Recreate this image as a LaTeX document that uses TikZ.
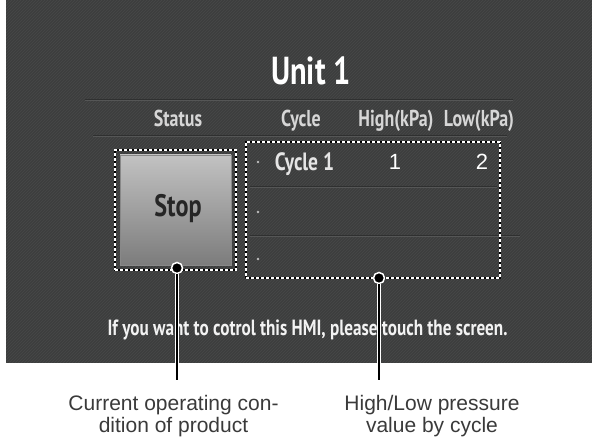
\documentclass[tikz,border=0pt]{standalone}
\usepackage{fontspec}
\setmainfont{Liberation Sans}
\newfontfamily\hmifont[FakeStretch=0.78]{PT Sans}
\usetikzlibrary{patterns}
\definecolor{panel}{HTML}{3D3E3E}
\definecolor{stripe}{HTML}{474848}
\definecolor{headgray}{HTML}{D6D6D6}
\definecolor{sepdark}{HTML}{2F3030}
\definecolor{seplight}{HTML}{555656}
\definecolor{btntop}{HTML}{C2C2C2}
\definecolor{btnbot}{HTML}{7C7C7C}
\definecolor{captext}{HTML}{3A3A3A}

\begin{document}
\begin{tikzpicture}[x=1pt, y=-1pt,
    head/.style={font=\hmifont\bfseries\fontsize{23}{26}\selectfont, text=headgray, anchor=base, inner sep=0pt},
    cell/.style={font=\fontsize{22}{25}\selectfont, text=white, anchor=base, inner sep=0pt},
    selbox/.style={draw=white, line width=1.4pt, dash pattern=on 3pt off 2pt,
      preaction={draw=black, line width=2.8pt, solid}, inner sep=0pt},
    pin/.style={circle, fill=black, draw=white, line width=1.5pt, minimum size=11pt, inner sep=0pt},
    lead/.style={draw=black, line width=1.7pt, preaction={draw=white, line width=4pt}},
    caption/.style={font=\fontsize{21}{22}\selectfont, text=captext, align=center, anchor=base, inner sep=0pt}]
  \useasboundingbox (0,0) rectangle (592,438);

  % screen panel
  \fill[panel] (6,0) rectangle (592,363);
  \fill[pattern=north east lines, pattern color=stripe] (6,0) rectangle (592,363);

  % title and header rows
  \node[head, font=\hmifont\bfseries\fontsize{39}{42}\selectfont, text=white] (title) at (311,85) {Unit 1};
  \foreach \y/\a/\b in {99/85/513, 135/93/507, 186/250/497, 235/250/520} {
    \draw[sepdark] (\a,\y) -- (\b,\y);
    \draw[seplight] (\a,\y+1) -- (\b,\y+1);
  }
  \node[head] (status) at (178,127) {Status};
  \node[head] (cycle) at (301,127) {Cycle};
  \node[head] (high) at (396,127) {High(kPa)};
  \node[head] (low) at (479,127) {Low(kPa)};

  % stop button
  \node[selbox, minimum width=121pt, minimum height=120pt] (stopbox) at (175.5,210) {};
  \node[top color=btntop, bottom color=btnbot, draw=btntop!70!black, line width=0.6pt,
    minimum width=111pt, minimum height=110pt] (stop) at (175.5,210) {};
  \node[head, font=\hmifont\bfseries\fontsize{31}{34}\selectfont, text=black!85] (stoptxt) at (178,217) {Stop};

  % cycle table
  \node[selbox, minimum width=254pt, minimum height=136pt] (table) at (373,210) {};
  \foreach \y in {162,212,259}
    \fill[black!25] (258,\y) circle (1.3);
  \node[head, font=\hmifont\bfseries\fontsize{25}{28}\selectfont, text=black!10] (cyc1) at (304.5,170.5) {Cycle 1};
  \node[cell] (hi1) at (395,170) {1};
  \node[cell] (lo1) at (482,170) {2};

  % footer message
  \node[head, font=\hmifont\bfseries\fontsize{22}{25}\selectfont, text=black!5] (msg) at (307.5,336)
    {If you want to cotrol this HMI, please touch the screen.};

  % callouts
  \node[pin] (pinS) at (177,268) {};
  \node[pin] (pinT) at (379,278) {};
  \coordinate (endS) at (177,380);
  \coordinate (endT) at (379,380);
  \draw[lead] (pinS) -- (endS);
  \draw[lead] (pinT) -- (endT);
  \node[caption] (capS) at (173.5,432) {Current operating con-\\dition of product};
  \node[caption] (capT) at (432,432) {High/Low pressure\\value by cycle};
\end{tikzpicture}
\end{document}
